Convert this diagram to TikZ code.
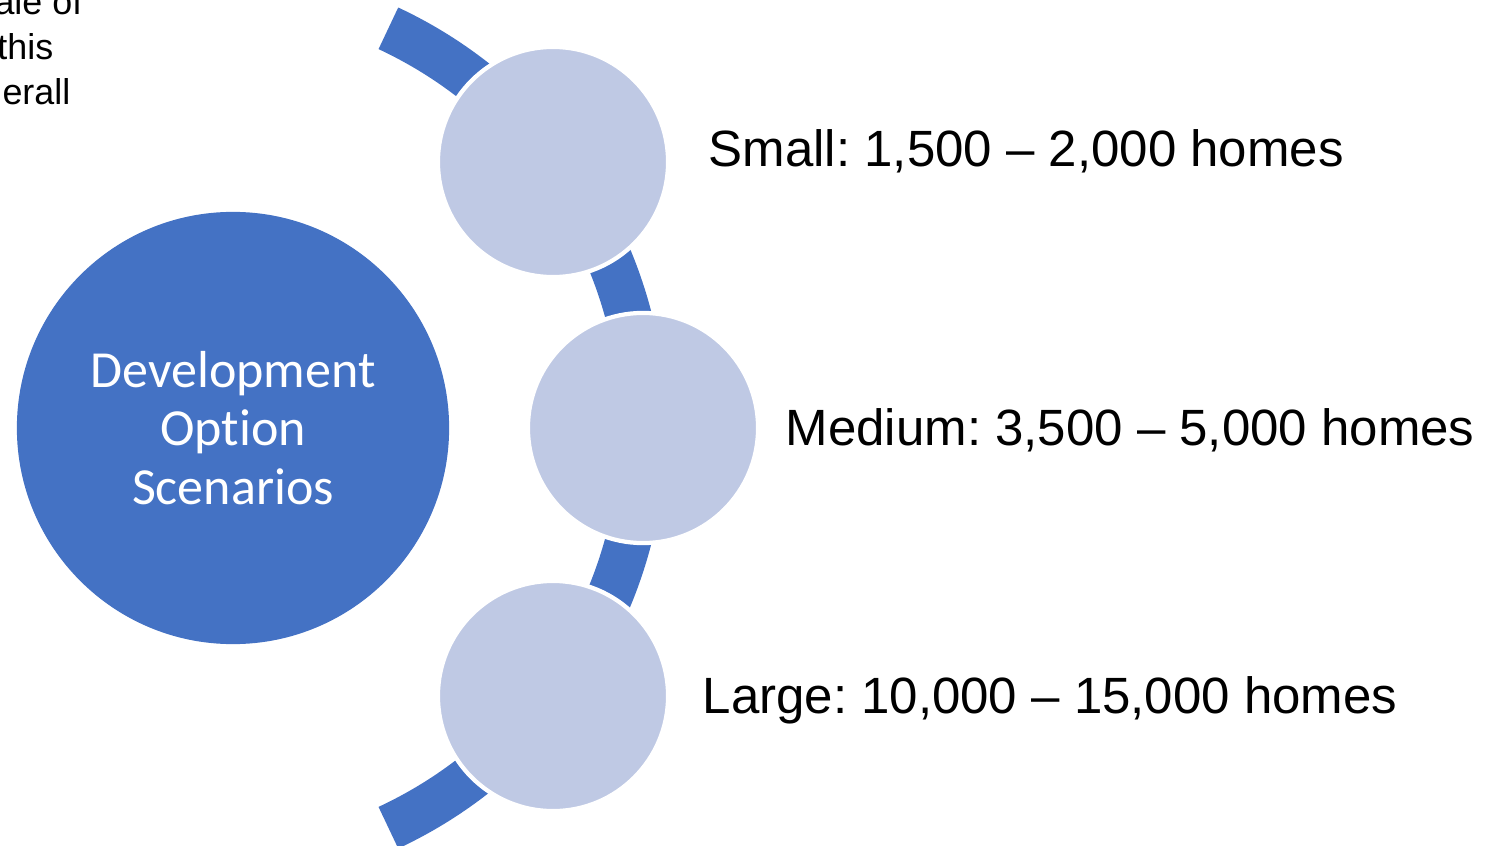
\documentclass[tikz,border=0pt]{standalone}
\usepackage{fontspec}
\setmainfont{Liberation Sans}
\newfontfamily\calibri[Ligatures=NoCommon]{Carlito}
\usepackage{tikz}
\usetikzlibrary{positioning}
\definecolor{hubBlue}{RGB}{68,114,196}
\definecolor{optionFill}{RGB}{191,201,228}
\frenchspacing
\tikzset{
  hubCircle/.style={
    circle,
    fill=hubBlue,
    minimum size=4.32cm,
    inner sep=0pt,
    align=center,
    text=white,
    font=\calibri\fontsize{14.8pt}{16.6pt}\selectfont
  },
  optionCircle/.style={
    circle,
    fill=optionFill,
    draw=white,
    line width=1.2pt,
    minimum size=2.30cm,
    inner sep=0pt
  },
  bandArc/.style={
    draw=hubBlue,
    line width=0.46cm
  },
  optionLabel/.style={
    anchor=base west,
    inner sep=0pt,
    font=\fontsize{14.5pt}{17pt}\selectfont
  },
  sideText/.style={
    anchor=base east,
    inner sep=0pt,
    font=\fontsize{10.2pt}{12pt}\selectfont
  }
}

\begin{document}
\begin{tikzpicture}[x=0.01cm, y=0.01cm]
        \useasboundingbox (0,0) rectangle (1498,845);
        \clip (0,0) rectangle (1498,845);

        % curved band behind the option circles
        \coordinate (arcCentre) at (202,417);
        \draw[bandArc] (arcCentre) ++(-65:441) arc[start angle=-65, end angle=65, radius=441];

        \node[hubCircle] (hub) at (233,417) {Development\\Option\\Scenarios};
        \node[optionCircle] (small) at (553,683) {};
        \node[optionCircle] (medium) at (643,417) {};
        \node[optionCircle] (large) at (553,149) {};

        \node[optionLabel] (smallText) at (708,678) {Small: 1,500 – 2,000 homes};
        \node[optionLabel] (mediumText) at (785,400) {Medium: 3,500 – 5,000 homes};
        \node[optionLabel] (largeText) at (702,132) {Large: 10,000 – 15,000 homes};

        % text running in from the left edge
        \node[sideText] (sideOne) at (83,830) {ale of};
        \node[sideText] (sideTwo) at (54,785) {this};
        \node[sideText] (sideThree) at (71,740) {erall};
    \end{tikzpicture}
\end{document}
